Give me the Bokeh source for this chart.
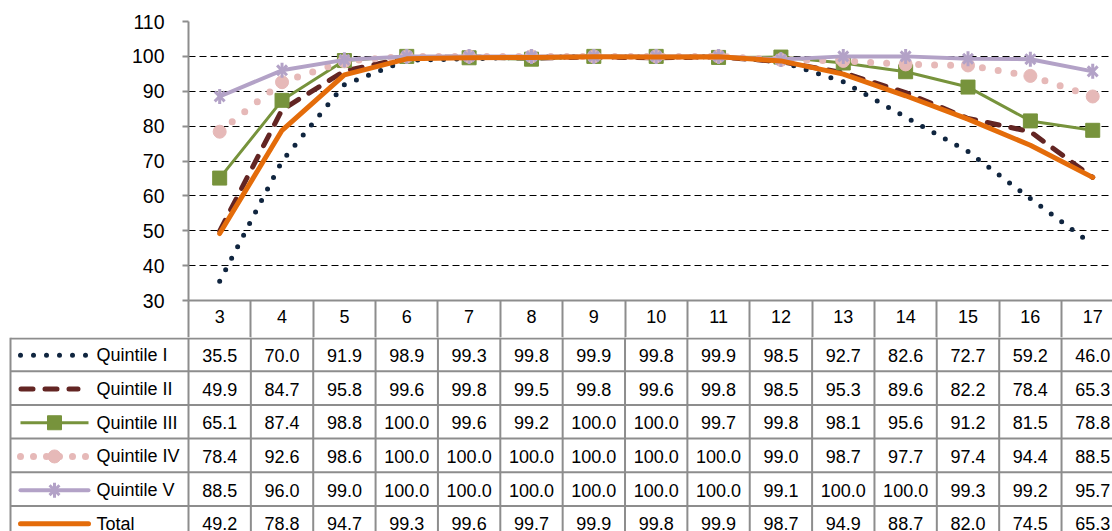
from bokeh.plotting import figure
from bokeh.models import Range1d, FixedTicker, Label
from bokeh.embed import file_html
from bokeh.resources import INLINE
from bokeh.core.properties import value
import math

# ---------------- data ----------------
categories = [3, 4, 5, 6, 7, 8, 9, 10, 11, 12, 13, 14, 15, 16, 17]
quintile_1 = [35.5, 70.0, 91.9, 98.9, 99.3, 99.8, 99.9, 99.8, 99.9, 98.5, 92.7, 82.6, 72.7, 59.2, 46.0]
quintile_2 = [49.9, 84.7, 95.8, 99.6, 99.8, 99.5, 99.8, 99.6, 99.8, 98.5, 95.3, 89.6, 82.2, 78.4, 65.3]
quintile_3 = [65.1, 87.4, 98.8, 100.0, 99.6, 99.2, 100.0, 100.0, 99.7, 99.8, 98.1, 95.6, 91.2, 81.5, 78.8]
quintile_4 = [78.4, 92.6, 98.6, 100.0, 100.0, 100.0, 100.0, 100.0, 100.0, 99.0, 98.7, 97.7, 97.4, 94.4, 88.5]
quintile_5 = [88.5, 96.0, 99.0, 100.0, 100.0, 100.0, 100.0, 100.0, 100.0, 99.1, 100.0, 100.0, 99.3, 99.2, 95.7]
total = [49.2, 78.8, 94.7, 99.3, 99.6, 99.7, 99.9, 99.8, 99.9, 98.7, 94.9, 88.7, 82.0, 74.5, 65.3]
series_names = ["Quintile I", "Quintile II", "Quintile III", "Quintile IV", "Quintile V", "Total"]
series_values = [quintile_1, quintile_2, quintile_3, quintile_4, quintile_5, total]
y_ticks = [30, 40, 50, 60, 70, 80, 90, 100, 110]
title_text = "(Percentages)"

# ---------------- styles ----------------
styles = [
    dict(color="#10253f", width=5, dash="0 13", key_dash="0 13", cap="round", marker=None),
    dict(color="#632523", width=5, dash="12 12", key_dash="12 12", cap="round", marker=None),
    dict(color="#77933c", width=3, dash="solid", key_dash="solid", cap="butt", marker="square"),
    dict(color="#e6b9b8", width=7, dash="0 16", key_dash="0 13", cap="round", marker="circle"),
    dict(color="#b3a2c7", width=4, dash="solid", key_dash="solid", cap="round", marker="star"),
    dict(color="#e46c0a", width=5, dash="solid", key_dash="solid", cap="round", marker=None),
]
FONT = value("Liberation Sans")
GRAY = "#8d8d8d"
col_w = 62.36         # px per category
left_px = 188         # frame offset inside figure
top_px = 21
frame_w = 924
frame_h = 279
header_h = 37
x_end = 2.5 + frame_w / col_w


def px_x(page_x):
    return 2.5 + (page_x - left_px) / col_w


def add_markers(fig, xs, ys, st):
    m = st["marker"]
    c = st["color"]
    if m == "square":
        fig.scatter(xs, ys, marker="square", size=14, fill_color=c, line_color=c, line_width=1)
    elif m == "circle":
        fig.scatter(xs, ys, marker="circle", size=13, fill_color=c, line_color=c, line_width=1)
    elif m == "star":
        fig.scatter(xs, ys, marker="x", size=14, line_color=c, line_width=3)
        fig.scatter(xs, ys, marker="dash", size=15, angle=math.pi / 2, line_color=c, line_width=3)


# ---------------- chart (with header row as x axis) ----------------
p = figure(frame_width=frame_w, frame_height=frame_h,
           x_range=Range1d(2.5, x_end), y_range=Range1d(30, 110),
           min_border_left=left_px, min_border_right=0, min_border_top=top_px,
           min_border_bottom=header_h,
           output_backend="svg", toolbar_location=None)
p.outline_line_color = None
p.background_fill_color = "white"
p.border_fill_color = "white"
p.xgrid.visible = False
p.ygrid.ticker = FixedTicker(ticks=y_ticks[1:])
p.ygrid.grid_line_color = "black"
p.ygrid.grid_line_width = 1
p.ygrid.grid_line_dash = "7 4"

ax = p.yaxis[0]
ax.ticker = FixedTicker(ticks=y_ticks)
ax.axis_line_color = GRAY
ax.axis_line_width = 2
ax.major_tick_line_color = GRAY
ax.major_tick_line_width = 2
ax.major_tick_in = 0
ax.major_tick_out = 6
ax.minor_tick_line_color = None
ax.major_label_standoff = 18
ax.major_label_text_font = "Liberation Sans"
ax.major_label_text_font_size = "19.5px"
ax.major_label_text_color = "black"

xa = p.xaxis[0]
xa.ticker = FixedTicker(ticks=categories, minor_ticks=[c - 0.5 for c in categories] + [categories[-1] + 0.5])
xa.axis_line_color = GRAY
xa.axis_line_width = 2
xa.major_tick_line_color = None
xa.major_tick_in = 0
xa.major_tick_out = 0
xa.minor_tick_line_color = GRAY
xa.minor_tick_line_width = 2
xa.minor_tick_in = 0
xa.minor_tick_out = header_h
xa.major_label_standoff = 9 - header_h
xa.major_label_text_font = "Liberation Sans"
xa.major_label_text_font_size = "18px"
xa.major_label_text_color = "black"

for vals, st in zip(series_values, styles):
    p.line(categories, vals, line_color=st["color"], line_width=st["width"],
           line_dash=st["dash"], line_cap=st["cap"], line_join="round")
    add_markers(p, categories, vals, st)

p.add_layout(Label(x=px_x(552), y=110 + (top_px - 6) * 80 / frame_h, text=title_text,
                   text_font="Liberation Serif", text_font_style="italic",
                   text_font_size="25px", text_align="center", text_baseline="alphabetic",
                   text_color="black"))

# ---------------- data table rows ----------------
tab_h = 531 - (top_px + frame_h + header_h)
row_h = 33.7
t = figure(frame_width=left_px + frame_w, frame_height=tab_h,
           x_range=Range1d(2.5 - left_px / col_w, x_end), y_range=Range1d(tab_h, 0),
           min_border=0, x_axis_location=None, y_axis_location=None,
           output_backend="svg", toolbar_location=None)
t.outline_line_color = None
t.background_fill_color = "white"
t.border_fill_color = "white"
t.xgrid.visible = False
t.ygrid.visible = False

row_lines = [1] + [row_h * (i + 1) for i in range(len(series_names))]
table_left = px_x(10)
bottom = row_h * len(series_names)
t.segment(x0=[table_left] * len(row_lines), y0=row_lines, x1=[x_end + 1] * len(row_lines), y1=row_lines,
          line_color=GRAY, line_width=2)
vx = [c - 0.5 for c in categories] + [categories[-1] + 0.5, table_left]
t.segment(x0=vx, y0=[0] * len(vx), x1=vx, y1=[bottom] * len(vx), line_color=GRAY, line_width=2)

for i, (name, vals, st) in enumerate(zip(series_names, series_values, styles)):
    yc = row_h * (i + 0.5) + 1
    t.text(x=categories, y=[yc] * len(categories), text=["%.1f" % v for v in vals],
           text_font=FONT, text_font_size="18px", text_align="center", text_baseline="middle",
           text_color="black")
    t.text(x=[px_x(96)], y=[yc], text=[name], text_font=FONT, text_font_size="18px",
           text_align="left", text_baseline="middle", text_color="black")
    # legend key
    if st["dash"] == "12 12":
        kx = [px_x(20.5), px_x(77.5)]
    elif st["dash"] != "solid":
        kx = [px_x(20), px_x(86)]
    else:
        kx = [px_x(20), px_x(88)]
    t.line(kx, [yc, yc], line_color=st["color"], line_width=st["width"],
           line_dash=st["key_dash"], line_cap=st["cap"])
    add_markers(t, [px_x(54)], [yc], st)

open("out.html", "w").write(file_html([p, t], INLINE))
